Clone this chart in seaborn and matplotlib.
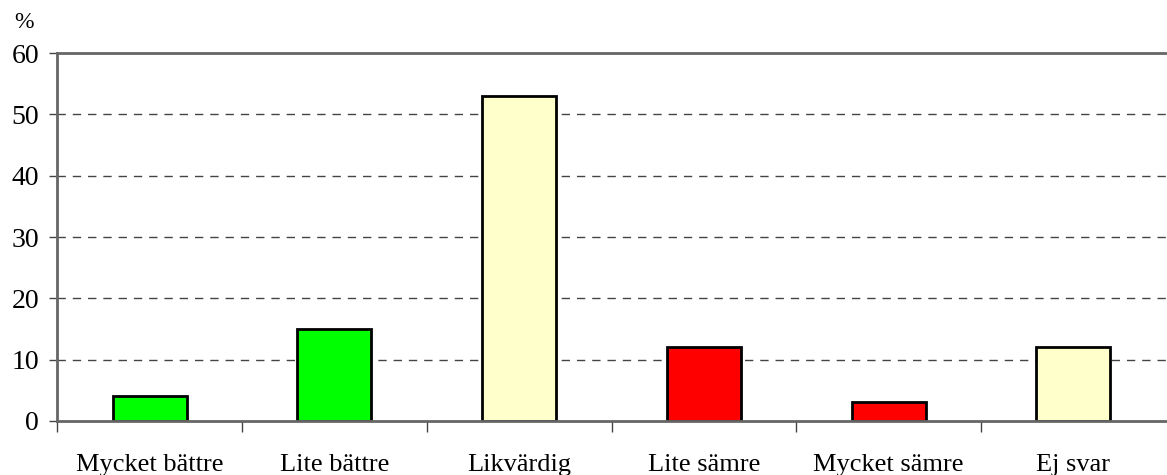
import pandas as pd
import matplotlib.pyplot as plt
import seaborn as sns

categories = ['Mycket bättre', 'Lite bättre', 'Likvärdig', 'Lite sämre', 'Mycket sämre', 'Ej svar']
values = [4, 15, 53, 12, 3, 12]
colors = ['#00FF00', '#00FF00', '#FFFFCC', '#FF0000', '#FF0000', '#FFFFCC']

df = pd.DataFrame({'kategori': categories, 'procent': values})

sns.set_style('white')
plt.rcParams['font.family'] = ['Liberation Serif', 'DejaVu Serif']

fig = plt.figure(figsize=(11.67, 4.75), dpi=100)
ax = fig.add_axes([0.049, 0.114, 0.950, 0.774])

sns.barplot(data=df, x='kategori', y='procent', hue='kategori', palette=colors,
            saturation=1, width=0.4, edgecolor='black', linewidth=2, legend=False, ax=ax)

ax.set_xlim(-0.5, 5.5)
ax.set_ylim(0, 60)
ax.set_yticks(range(0, 61, 10))
ax.tick_params(axis='y', labelsize=20, labelcolor='black', length=6, width=1,
               color='#444444', direction='out', left=True, pad=7)
ax.set_xticks([i - 0.5 for i in range(6)], minor=False)
ax.set_xticklabels([])
ax.set_xticks(range(6), minor=True)
ax.set_xticklabels(categories, minor=True)
ax.tick_params(axis='x', which='major', length=8, width=1, color='#444444', direction='out', bottom=True)
ax.tick_params(axis='x', which='minor', length=0, labelsize=19, labelcolor='black', pad=24)

for y in range(10, 60, 10):
    ax.axhline(y, color='#444444', linestyle=(0, (6, 5)), linewidth=1, zorder=0)

for side in ['left', 'bottom', 'top']:
    ax.spines[side].set_color('#666666')
    ax.spines[side].set_linewidth(2)
ax.spines['right'].set_visible(False)

ax.set_xlabel('')
ax.set_ylabel('')
fig.text(0.012, 0.942, '%', fontsize=17, color='black', va='baseline')

fig.savefig('out.png', dpi=100)
